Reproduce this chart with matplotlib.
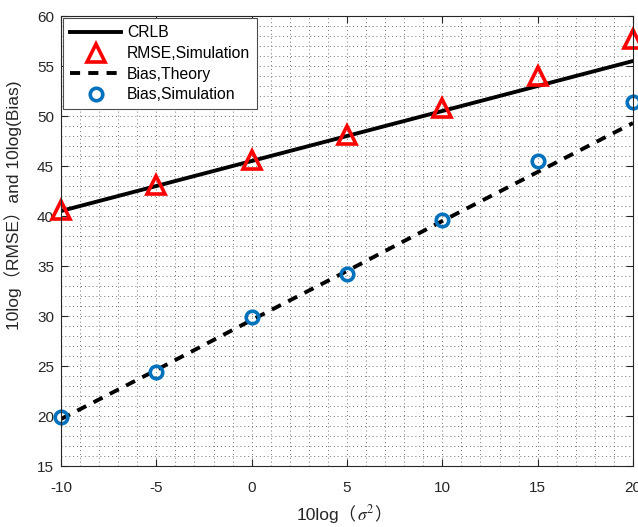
import numpy as np
import matplotlib
matplotlib.use('Agg')
import matplotlib.pyplot as plt
from matplotlib.ticker import MultipleLocator
from matplotlib.offsetbox import TextArea, HPacker, AnchoredOffsetbox

plt.rcParams['font.family'] = ['Liberation Sans', 'Noto Sans CJK SC', 'DejaVu Sans']
plt.rcParams['mathtext.fontset'] = 'stix'
plt.rcParams['axes.unicode_minus'] = False

snr = [-10, -5, 0, 5, 10, 15, 20]
crlb = [40.5, 43.0, 45.5, 48.0, 50.5, 53.0, 55.5]
rmse_sim = [40.6, 43.1, 45.6, 48.1, 50.8, 54.0, 57.7]
bias_theory = [19.7, 24.6, 29.6, 34.5, 39.5, 44.4, 49.3]
bias_sim = [19.9, 24.4, 29.9, 34.2, 39.6, 45.5, 51.4]

fig = plt.figure(figsize=(6.38, 5.27), dpi=100)
ax = fig.add_axes([61 / 638, 1 - 466 / 527, 572 / 638, 450 / 527])

blue = (0, 0.447, 0.741)
ax.plot(snr, crlb, color='k', lw=2.8, label='CRLB')
ax.plot(snr, rmse_sim, ls='none', marker='^', ms=13, mfc='none', mec='r',
        mew=2.6, label='RMSE,Simulation', clip_on=False)
ax.plot(snr, bias_theory, color='k', lw=2.8, dashes=(2.6, 2.1), label='Bias,Theory')
ax.plot(snr, bias_sim, ls='none', marker='o', ms=9, mfc='none', mec=blue,
        mew=2.6, label='Bias,Simulation', clip_on=False)

ax.set_xlim(-10, 20)
ax.set_ylim(15, 60)
ax.xaxis.set_major_locator(MultipleLocator(5))
ax.yaxis.set_major_locator(MultipleLocator(5))
ax.xaxis.set_minor_locator(MultipleLocator(1))
ax.yaxis.set_minor_locator(MultipleLocator(1))
ax.grid(True, which='both', color='0.45', ls=(0, (1, 3)), lw=0.7)
ax.set_axisbelow(True)
ax.tick_params(which='major', direction='in', length=5, top=True, right=True,
               labelsize=11, colors='0.15')
ax.tick_params(axis='x', pad=11)
ax.tick_params(axis='y', pad=5)
ax.tick_params(which='minor', length=0)
for s in ax.spines.values():
    s.set_color('0.15')
    s.set_linewidth(0.8)

# x label in pieces so the full-width brackets can fall back to the CJK font
tp = dict(fontsize=12.5, color='0.15')
xlab = HPacker(children=[TextArea('10log（', textprops=tp),
                         TextArea('$\\sigma^2$', textprops=tp),
                         TextArea('）', textprops=tp)],
               align='baseline', pad=0, sep=0)
ax.add_artist(AnchoredOffsetbox(loc='center', child=xlab, frameon=False, pad=0,
                                borderpad=0, bbox_to_anchor=(0.495, -0.105),
                                bbox_transform=ax.transAxes))

ax.set_ylabel('10log（RMSE）and 10log(Bias)', fontsize=12.5, color='0.15')
ax.yaxis.set_label_coords(-0.068, 0.58)

leg = ax.legend(loc='upper left', fontsize=11.3, handlelength=3.25, handletextpad=0.35,
                labelspacing=0.36, borderaxespad=0.15, fancybox=False,
                edgecolor='0.3', framealpha=1, borderpad=0.45)
leg.get_frame().set_linewidth(0.8)

fig.savefig('out.png', dpi=100)
